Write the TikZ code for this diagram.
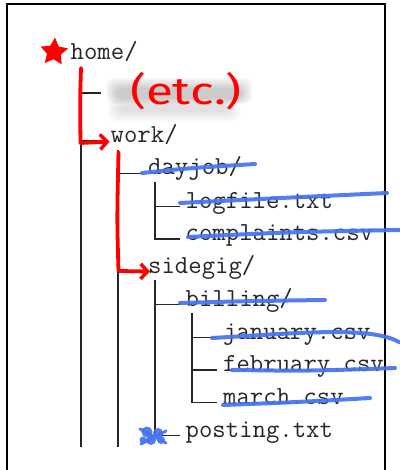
\documentclass[tikz,border=0pt]{standalone}
\usepackage{fontspec}
\usetikzlibrary{arrows.meta,shapes.geometric}
\newfontfamily\markerfont{Fira Sans}
\definecolor{penred}{RGB}{255,0,0}
\definecolor{penblue}{RGB}{70,115,240}
\tikzset{
  entry/.style={anchor=base west,inner sep=0pt,text=black!85,
    font=\fontsize{26}{30}\selectfont\ttfamily},
  tree/.style={draw=black!85,line width=1.2pt},
  frame/.style={draw=black,line width=1.3pt},
  redpen/.style={draw=penred,line width=3.8pt,line cap=round,line join=round},
  bluepen/.style={draw=penblue,line width=4pt,line cap=round,line join=round,opacity=0.92},
}
\begin{document}
\begin{tikzpicture}[x=1pt,y=-1pt]
\useasboundingbox (0,0) rectangle (399,470);
\fill[white] (0,0) rectangle (399,470);

% page edges
\draw[frame] (7,470) -- (7,4) -- (385,4) -- (385,470);

% redacted line: soft grey smudge
\foreach \i in {0,2,...,10}{
  \fill[black,opacity=0.035,rounded corners=8pt] (106+\i,78+\i) rectangle (252-\i,104-\i/2);
  \fill[black,opacity=0.02,rounded corners=8pt] (108+\i,100+\i/2) rectangle (240-\i,122-\i);
}

% directory entries
\node[entry] (home) at (70.5,60) {home/};
\coordinate (blur) at (101,93);
\node[entry] (work) at (110.5,142.5) {work/};
\node[entry] (dayjob) at (148,175) {dayjob/};
\node[entry] (logfile) at (185.5,208) {logfile.txt};
\node[entry] (complaints) at (185.5,240.5) {complaints.csv};
\node[entry] (sidegig) at (148,273.5) {sidegig/};
\node[entry] (billing) at (185.5,306) {billing/};
\node[entry] (january) at (223,339) {january.csv};
\node[entry] (february) at (223,371.5) {february.csv};
\node[entry] (march) at (223,404) {march.csv};
\node[entry] (posting) at (185.5,437) {posting.txt};

% tree branches
\coordinate (t0) at (81,67);
\coordinate (t1) at (118,150);
\coordinate (t2a) at (155,182);
\coordinate (t2b) at (155,280);
\coordinate (t3) at (192,313);
\coordinate (cut) at (0,447);

\tikzset{tick/.style={shift={(-6,-1.5)}}}
\draw[tree] (t0) -- (t0 |- cut)
  (t0 |- blur) -- (blur)
  (t0 |- work.base) ++(0,-1.5) -- ([tick]work.base west);
\draw[tree] (t1) -- (t1 |- cut)
  (t1) |- ([tick]dayjob.base west)
  (t1) |- ([tick]sidegig.base west);
\draw[tree] (t2a) |- ([tick]logfile.base west)
  (t2a) |- ([tick]complaints.base west);
\draw[tree] (t2b) |- ([tick]billing.base west)
  (t2b) |- ([tick]posting.base west);
\draw[tree] (t3) |- ([tick]january.base west)
  (t3) |- ([tick]february.base west)
  (t3) |- ([tick]march.base west);

% red markup
\node[star,star points=5,star point ratio=2.0,fill=penred,minimum size=29pt,inner sep=0pt,rotate=-4] (mark) at (54,52) {};
\draw[redpen,-{Straight Barb[length=7pt,width=15pt,line width=3.5pt]}]
  (81,68) .. controls (80,100) .. (80.5,143) -- ([shift={(-1,-1)}]work.base west);
\draw[redpen,-{Straight Barb[length=7pt,width=15pt,line width=3.5pt]}]
  (118.5,152) .. controls (117,220) .. (118.5,271) -- ([shift={(2,-2)}]sidegig.base west);
\node[text=penred,inner sep=0pt,xscale=1.3,font=\fontsize{38}{40}\selectfont\markerfont] (etc) at (186,91) {(etc.)};

% blue strike-outs
\draw[bluepen] (142,173) .. controls (190,168) .. (255,164);
\draw[bluepen] (180,203) .. controls (280,198) .. (387,193);
\draw[bluepen] (188,237) .. controls (290,232) .. (399,230);
\draw[bluepen] (180,303) .. controls (250,301) .. (325,300);
\draw[bluepen] (212,338) .. controls (300,333) and (370,326) .. (399,342);
\draw[bluepen] (232,370) .. controls (310,371) .. (395,368);
\draw[bluepen] (223,405) .. controls (300,402) .. (370,398);
\fill[penblue,opacity=0.92] (147,432) circle (5.5pt) (158,433) circle (5pt)
  (151,440) circle (5pt) (161,440) circle (4pt) (143,440) circle (3.5pt);
\draw[bluepen,line width=3pt] (140,429) -- (166,443) (141,444) -- (166,431);
\end{tikzpicture}
\end{document}
